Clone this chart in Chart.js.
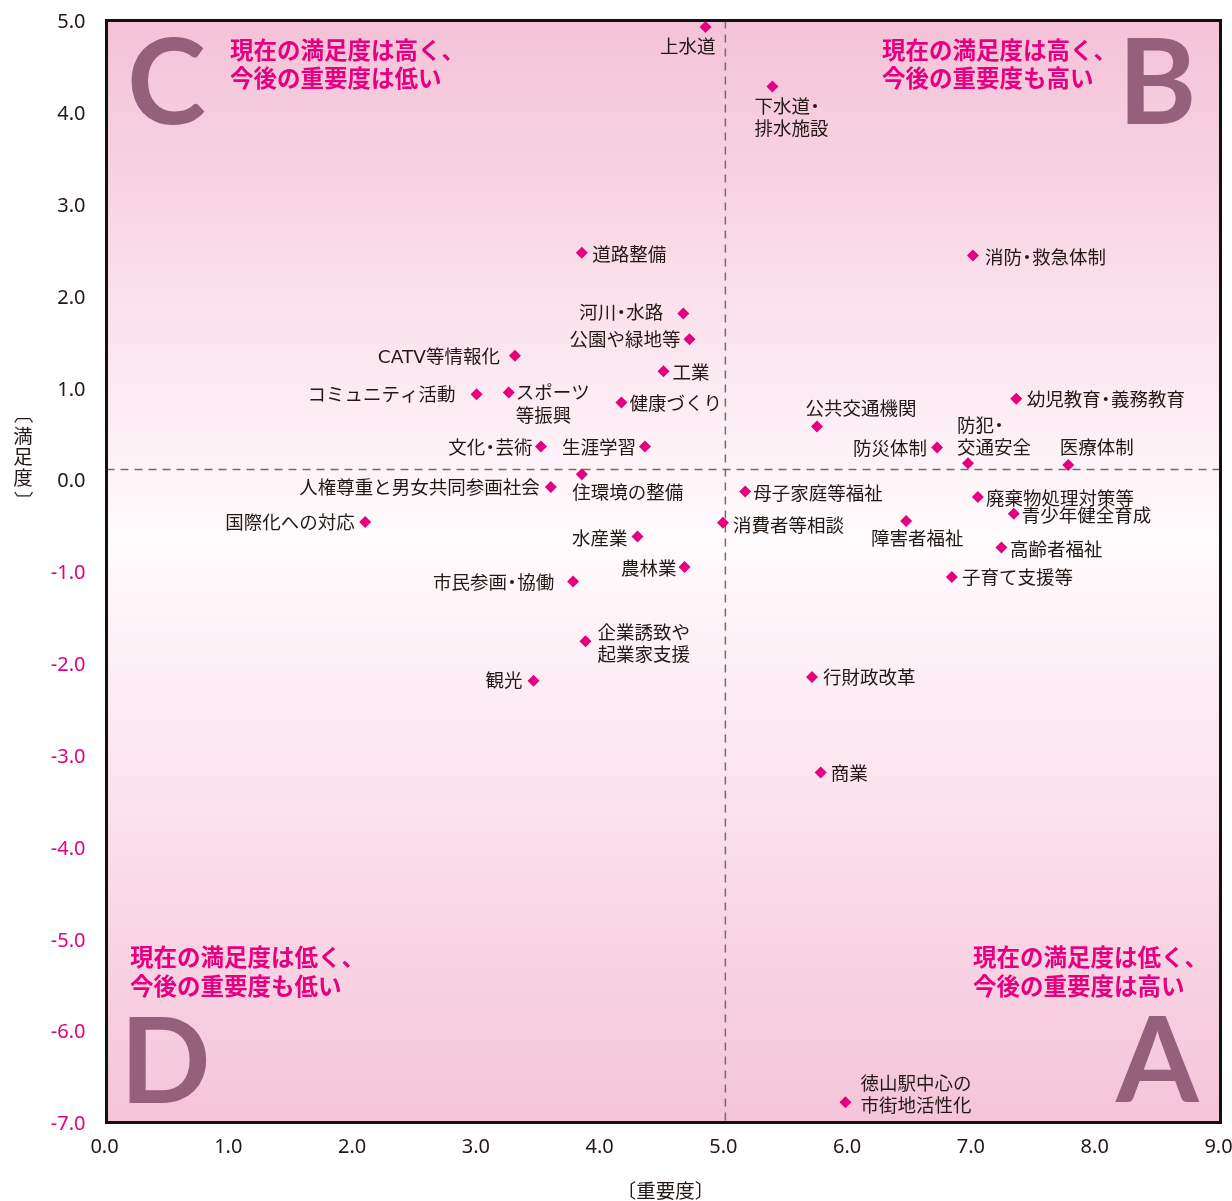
<!DOCTYPE html>
<html lang="ja">
<head>
<meta charset="utf-8">
<title>満足度・重要度</title>
<script src="https://cdn.jsdelivr.net/npm/chart.js@4.4.1/dist/chart.umd.min.js"></script>
<style>
  html, body { margin: 0; padding: 0; background: #fff; }
  #wrap { width: 1232px; height: 1201px; }
</style>
</head>
<body>
<div id="wrap"><canvas id="c" width="1232" height="1201"></canvas></div>
<script>
// 施策項目
const items = [
  '上水道', '下水道・\n排水施設', '道路整備', '消防・救急体制', '河川・水路',
  '公園や緑地等', 'CATV等情報化', '工業', 'コミュニティ活動', 'スポーツ\n等振興',
  '健康づくり', '幼児教育・義務教育', '公共交通機関', '防災体制', '防犯・\n交通安全',
  '医療体制', '文化・芸術', '生涯学習', '住環境の整備', '人権尊重と男女共同参画社会',
  '母子家庭等福祉', '廃棄物処理対策等', '青少年健全育成', '国際化への対応', '消費者等相談',
  '障害者福祉', '水産業', '高齢者福祉', '農林業', '子育て支援等',
  '市民参画・協働', '企業誘致や\n起業家支援', '観光', '行財政改革', '商業',
  '徳山駅中心の\n市街地活性化'
];
// 重要度（横軸）
const importance = [
  4.84, 5.38, 3.84, 7.00, 4.66,
  4.71, 3.30, 4.50, 2.99, 3.25,
  4.16, 7.35, 5.74, 6.71, 6.96,
  7.77, 3.51, 4.35, 3.84, 3.59,
  5.16, 7.04, 7.33, 2.09, 4.98,
  6.46, 4.29, 7.23, 4.67, 6.83,
  3.77, 3.87, 3.45, 5.70, 5.77,
  5.97
];
// 満足度（縦軸）
const satisfaction = [
  4.93, 4.28, 2.47, 2.44, 1.81,
  1.53, 1.35, 1.18, 0.93, 0.95,
  0.84, 0.88, 0.58, 0.35, 0.18,
  0.16, 0.36, 0.36, 0.06, -0.08,
  -0.13, -0.19, -0.37, -0.46, -0.47,
  -0.45, -0.62, -0.74, -0.95, -1.06,
  -1.11, -1.76, -2.19, -2.15, -3.19,
  -6.78
];
// 平均値（破線）
const meanImportance = 5.00;
const meanSatisfaction = 0.11;

const xTickLabels = ['0.0', '1.0', '2.0', '3.0', '4.0', '5.0', '6.0', '7.0', '8.0', '9.0'];
const yTickLabels = ['5.0', '4.0', '3.0', '2.0', '1.0', '0.0', '-1.0', '-2.0', '-3.0', '-4.0', '-5.0', '-6.0', '-7.0'];
const xAxisTitle = '〔重要度〕';
const yAxisTitle = ['〔', '満', '足', '度', '〕'];

const quadrantLetters = { A: 'A', B: 'B', C: 'C', D: 'D' };
const quadrantNotes = {
  A: ['現在の満足度は低く、', '今後の重要度は高い'],
  B: ['現在の満足度は高く、', '今後の重要度も高い'],
  C: ['現在の満足度は高く、', '今後の重要度は低い'],
  D: ['現在の満足度は低く、', '今後の重要度も低い']
};

// ラベルの配置 [dx, dy, 揃え]（点からのずれ、px）
const labelPlacement = [
  [10, 19, 'r'], [-18, 19, 'l'], [10.5, 0.5, 'l'], [12, 1, 'l'], [-20, -1.5, 'r'],
  [-9, 0, 'r'], [-15, 0, 'r'], [9, 0, 'l'], [-21, -0.5, 'r'], [7, -0.5, 'l'],
  [8, 0, 'l'], [10.5, 0, 'l'], [-11.5, -18.5, 'l'], [-10, 0.5, 'r'], [-11, -38.5, 'l'],
  [-8.5, -18, 'l'], [-8.5, 0, 'r'], [-9, 0, 'r'], [-9.5, 17.5, 'l'], [-11, -0.5, 'r'],
  [8, 1, 'l'], [8, 0.5, 'l'], [8, 1, 'l'], [-10.5, 0, 'r'], [10, 2, 'l'],
  [-35, 17, 'l'], [-10, 1, 'r'], [8.5, 1, 'l'], [-8, 1, 'r'], [10, 0, 'l'],
  [-19, 0, 'r'], [12, -10, 'l'], [-11, -1, 'r'], [11, 0, 'l'], [10, 0, 'l'],
  [15, -20, 'l']
];
const LABEL_BASE_SHIFT = 2.5;

const points = importance.map((x, i) => ({ x, y: satisfaction[i] }));

const MAGENTA = '#e4007f';
const INK = '#231815';
const LETTER = '#95607a';
const JP = '"Noto Sans CJK JP", "Noto Sans", sans-serif';
const LABEL_SIZE = 18.5;

// 背景グラデーション
const backgroundPlugin = {
  id: 'plotBackground',
  beforeDraw(chart) {
    const { ctx, chartArea: a } = chart;
    const g = ctx.createLinearGradient(0, a.top, 0, a.bottom);
    g.addColorStop(0, '#f4c2d7');
    g.addColorStop(0.47, '#fffbfd');
    g.addColorStop(1, '#f5c4d9');
    ctx.save();
    ctx.fillStyle = g;
    ctx.fillRect(a.left, a.top, a.right - a.left, a.bottom - a.top);
    ctx.restore();
  }
};

function drawInk(ctx, text, opt) {
  ctx.textAlign = 'left';
  const m = ctx.measureText(text);
  let x;
  if (opt.left !== undefined) x = opt.left + m.actualBoundingBoxLeft;
  else x = opt.right - m.actualBoundingBoxRight;
  ctx.fillText(text, x, opt.baseline);
}

// 中黒を詰めて描く
function drawTight(ctx, text, x, y, align, size) {
  const dotAdv = 0.55 * size;
  const parts = text.split('・');
  ctx.textAlign = 'left';
  const widths = parts.map(p => ctx.measureText(p).width);
  const total = widths.reduce((s, w) => s + w, 0) + (parts.length - 1) * dotAdv;
  let cx = align === 'r' ? x - total : x;
  parts.forEach((p, i) => {
    ctx.textAlign = 'left';
    ctx.fillText(p, cx, y);
    cx += widths[i];
    if (i < parts.length - 1) {
      ctx.textAlign = 'center';
      ctx.fillText('・', cx + dotAdv / 2, y);
      cx += dotAdv;
    }
  });
}

const quadrantPlugin = {
  id: 'quadrants',
  beforeDatasetsDraw(chart) {
    const { ctx, chartArea: a, scales } = chart;
    ctx.save();
    // 平均値の破線
    ctx.strokeStyle = '#6e6e6e';
    ctx.lineWidth = 1.5;
    ctx.setLineDash([8, 6]);
    const mx = scales.x.getPixelForValue(meanImportance);
    const my = scales.y.getPixelForValue(meanSatisfaction);
    ctx.beginPath();
    ctx.moveTo(mx, a.top); ctx.lineTo(mx, a.bottom);
    ctx.moveTo(a.left, my); ctx.lineTo(a.right, my);
    ctx.stroke();
    ctx.setLineDash([]);

    // A〜D
    ctx.fillStyle = LETTER;
    ctx.textBaseline = 'alphabetic';
    ctx.font = '700 100px Lato, "Noto Sans", sans-serif';
    const cap = ctx.measureText('H').actualBoundingBoxAscent;
    const size = 100 * 87 / cap;
    ctx.font = `700 ${size}px Lato, "Noto Sans", sans-serif`;
    drawInk(ctx, quadrantLetters.C, { left: 131, baseline: 124 });
    drawInk(ctx, quadrantLetters.B, { right: 1192, baseline: 124 });
    drawInk(ctx, quadrantLetters.D, { left: 129, baseline: 1103 });
    drawInk(ctx, quadrantLetters.A, { right: 1200, baseline: 1102 });

    // 説明文
    ctx.fillStyle = MAGENTA;
    ctx.font = `bold 23.5px ${JP}`;
    ctx.textBaseline = 'middle';
    ctx.textAlign = 'left';
    const put = (lines, x, y0, dy) => lines.forEach((t, k) => ctx.fillText(t, x, y0 + k * dy));
    put(quadrantNotes.C, 230, 50, 28);
    put(quadrantNotes.B, 882, 50, 28);
    put(quadrantNotes.D, 130, 957, 29);
    put(quadrantNotes.A, 973, 957, 29);
    ctx.restore();
  }
};

// 各点のラベル
const labelPlugin = {
  id: 'pointLabels',
  afterDatasetsDraw(chart) {
    const ctx = chart.ctx;
    const meta = chart.getDatasetMeta(0);
    ctx.save();
    ctx.font = `${LABEL_SIZE}px "DejaVu Sans", ${JP}`;
    ctx.fillStyle = INK;
    ctx.textBaseline = 'middle';
    meta.data.forEach((el, i) => {
      const [dx, dy, al] = labelPlacement[i];
      items[i].split('\n').forEach((line, k) => {
        drawTight(ctx, line, el.x + dx, el.y + dy + LABEL_BASE_SHIFT + k * 22.5, al, LABEL_SIZE);
      });
    });
    ctx.restore();
  }
};

// 枠と軸タイトル
const framePlugin = {
  id: 'frameAndTitles',
  afterDraw(chart) {
    const { ctx, chartArea: a } = chart;
    ctx.save();
    ctx.strokeStyle = '#111';
    ctx.lineWidth = 3;
    ctx.strokeRect(a.left, a.top, a.right - a.left, a.bottom - a.top);

    ctx.fillStyle = INK;
    ctx.font = `19.5px ${JP}`;
    ctx.textAlign = 'center';
    ctx.textBaseline = 'middle';
    ctx.fillText(xAxisTitle, (a.left + a.right) / 2 + 2, 1191);

    // 縦書きの軸タイトル
    const cx = 23;
    const centers = [420, 436, 457, 478, 494];
    yAxisTitle.forEach((ch, k) => {
      if (ch === '〔' || ch === '〕') {
        ctx.textAlign = 'left';
        const m = ctx.measureText(ch);
        const inkMid = (m.actualBoundingBoxRight - m.actualBoundingBoxLeft) / 2;
        ctx.save();
        ctx.translate(cx, centers[k]);
        ctx.rotate(Math.PI / 2);
        ctx.fillText(ch, -inkMid, 0);
        ctx.restore();
      } else {
        ctx.textAlign = 'center';
        ctx.fillText(ch, cx, centers[k]);
      }
    });
    ctx.restore();
  }
};

const tickFont = { family: '"Noto Sans", sans-serif', size: 20 };
const noEdgePadding = (axis) => {
  axis.paddingTop = 0; axis.paddingBottom = 0;
  axis.paddingLeft = 0; axis.paddingRight = 0;
};

new Chart(document.getElementById('c'), {
  type: 'scatter',
  data: {
    datasets: [{
      data: points,
      pointStyle: 'rectRot',
      pointRadius: 6,
      pointHoverRadius: 6,
      backgroundColor: MAGENTA,
      borderColor: MAGENTA,
      borderWidth: 0
    }]
  },
  options: {
    responsive: false,
    animation: false,
    devicePixelRatio: 1,
    layout: { padding: { top: 20.5, right: 11.5, left: 0, bottom: 0 } },
    plugins: { legend: { display: false }, tooltip: { enabled: false } },
    scales: {
      x: {
        type: 'linear',
        min: 0, max: 9,
        afterBuildTicks(axis) { axis.ticks = xTickLabels.map(l => ({ value: parseFloat(l) })); },
        afterFit(axis) { axis.height = 1201 - 1122.5; noEdgePadding(axis); },
        ticks: {
          callback: (v) => xTickLabels.find(l => parseFloat(l) === v),
          font: tickFont,
          color: INK,
          padding: 12.5,
          labelOffset: -2,
          maxRotation: 0,
          autoSkip: false
        },
        grid: { display: false, drawTicks: false },
        border: { display: false },
        title: { display: false }
      },
      y: {
        type: 'linear',
        min: -7, max: 5,
        afterBuildTicks(axis) { axis.ticks = yTickLabels.map(l => ({ value: parseFloat(l) })); },
        afterFit(axis) { axis.width = 106.5; noEdgePadding(axis); },
        ticks: {
          callback: (v) => yTickLabels.find(l => parseFloat(l) === v),
          font: tickFont,
          color: (c) => (c.tick && c.tick.value < 0 ? MAGENTA : INK),
          padding: 21,
          labelOffset: 2,
          autoSkip: false
        },
        grid: { display: false, drawTicks: false },
        border: { display: false },
        title: { display: false }
      }
    }
  },
  plugins: [backgroundPlugin, quadrantPlugin, labelPlugin, framePlugin]
});
</script>
</body>
</html>
